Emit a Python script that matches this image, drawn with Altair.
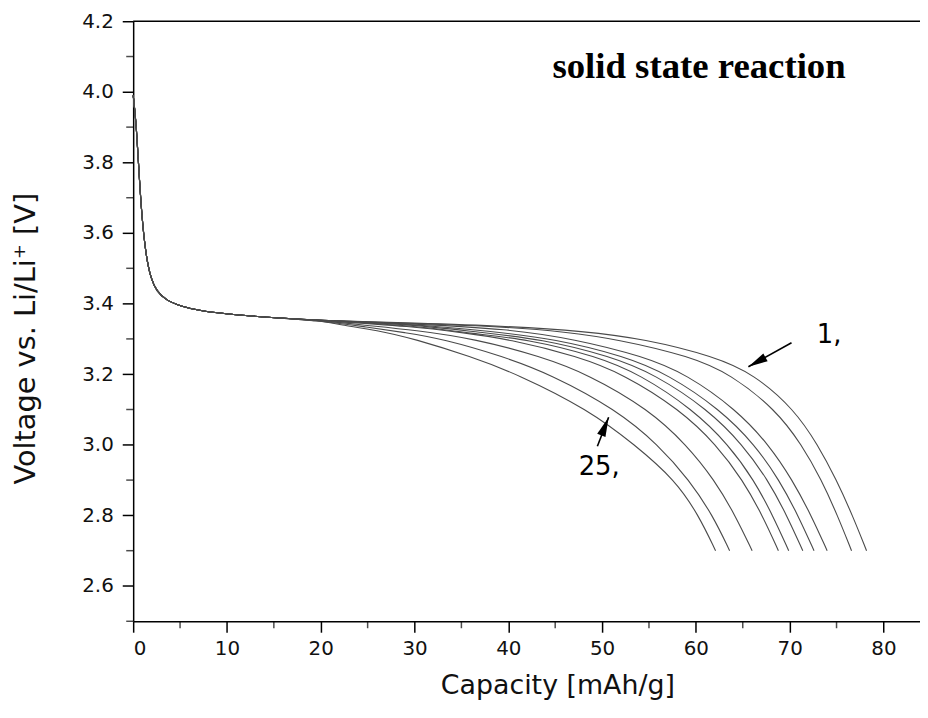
import altair as alt
import pandas as pd

# ---------------- data ----------------
# common initial drop (all discharge curves overlap here)
start_cap = [0.0, 0.3, 0.6, 0.95, 1.4, 1.9, 2.5, 3.5, 5.0, 7.3, 10.9, 15.0, 20.0]
start_volt = [3.99, 3.92, 3.78, 3.635, 3.53, 3.47, 3.435, 3.41, 3.393, 3.378, 3.368, 3.36, 3.352]

# plateau points of each curve (curve 1 = cycle 1 ... last = cycle 25)
plateau_cap = [
    [30, 40, 48],
    [30, 40, 46],
    [30, 40],
    [30, 38],
    [30, 37],
    [30, 36],
    [30, 35],
    [25, 30],
    [25, 29],
    [22, 26],
]
plateau_volt = [
    [3.345, 3.336, 3.322],
    [3.344, 3.334, 3.320],
    [3.343, 3.328],
    [3.342, 3.322],
    [3.341, 3.318],
    [3.338, 3.315],
    [3.335, 3.318],
    [3.338, 3.325],
    [3.333, 3.318],
    [3.340, 3.325],
]

# capacity at which each curve reaches these voltages
fall_volt = [3.30, 3.25, 3.20, 3.10, 3.00, 2.90, 2.80, 2.70]
fall_cap = [
    [54.5, 62.0, 66.2, 70.5, 73.0, 75.0, 76.7, 78.2],
    [51.5, 59.5, 63.7, 68.5, 71.3, 73.4, 75.1, 76.6],
    [47.0, 54.5, 59.0, 64.3, 67.8, 70.3, 72.3, 74.0],
    [45.0, 52.5, 57.0, 62.6, 66.3, 68.9, 70.9, 72.6],
    [43.5, 51.0, 55.6, 61.3, 65.0, 67.7, 69.7, 71.4],
    [42.0, 49.5, 54.0, 59.7, 63.5, 66.2, 68.2, 69.9],
    [40.0, 47.5, 52.3, 58.3, 62.2, 65.0, 67.1, 68.8],
    [36.5, 43.5, 48.5, 55.0, 59.0, 62.0, 64.2, 66.0],
    [33.0, 39.5, 44.5, 51.5, 56.0, 59.3, 61.8, 63.6],
    [30.0, 36.0, 41.0, 48.5, 53.5, 57.8, 60.3, 62.1],
]

title_text = "solid state reaction"
x_title = "Capacity [mAh/g]"
y_title = "Voltage vs.  Li/Li\u207a [V]"

x_major = [0, 10, 20, 30, 40, 50, 60, 70, 80]
x_minor = [5, 15, 25, 35, 45, 55, 65, 75]
y_major = [2.6, 2.8, 3.0, 3.2, 3.4, 3.6, 3.8, 4.0, 4.2]
y_minor = [2.5, 2.7, 2.9, 3.1, 3.3, 3.5, 3.7, 3.9, 4.1]

# annotations
ann_label = ["1,", "25,"]
ann_label_cap = [72.9, 47.5]
ann_label_volt = [3.289, 2.914]
arrow_from_cap = [70.2, 49.5]
arrow_from_volt = [3.289, 2.996]
arrow_to_cap = [65.6, 50.7]
arrow_to_volt = [3.221, 3.078]
arrow_angle = [241, 22]

# ---------------- build tables ----------------
rows = []
for i in range(len(fall_cap)):
    caps = start_cap + plateau_cap[i] + fall_cap[i]
    volts = start_volt + plateau_volt[i] + fall_volt
    for k, (c, v) in enumerate(zip(caps, volts)):
        rows.append({"curve": i + 1, "order": k, "cap": c, "volt": v})
df = pd.DataFrame(rows)

W, H = 792, 604
XMAX = 83.9
xs = alt.Scale(domain=[0, XMAX], nice=False, zero=False)
ys = alt.Scale(domain=[2.5, 4.2], nice=False, zero=False)

x_axis = alt.Axis(
    values=x_major, format="d", tickSize=11, labelOverlap=False,
    title=x_title, titleX=427, titleY=73, titleAlign="center",
    titleBaseline="alphabetic", titleFontSize=27, grid=False, labelPadding=6,
)
y_axis = alt.Axis(
    values=y_major, format=".1f", tickSize=11, labelOverlap=False,
    title=y_title, titleX=-99, titleY=319, titleAlign="center",
    titleBaseline="alphabetic", titleAngle=270, titleFontSize=29, grid=False,
    labelPadding=9,
)

lines = alt.Chart(df).mark_line(
    interpolate="basis", color="#4a4a4a", strokeWidth=1.1
).encode(
    x=alt.X("cap:Q", scale=xs, axis=x_axis),
    y=alt.Y("volt:Q", scale=ys, axis=y_axis),
    detail="curve:N",
    order="order:Q",
)

x_minor_ticks = alt.Chart(pd.DataFrame({"m": x_minor})).mark_tick(
    color="black", thickness=1.5, size=7, orient="vertical"
).encode(x=alt.X("m:Q", scale=xs), y=alt.value(H + 3.5))

y_minor_ticks = alt.Chart(pd.DataFrame({"m": y_minor})).mark_tick(
    color="black", thickness=1.5, size=7, orient="horizontal"
).encode(y=alt.Y("m:Q", scale=ys), x=alt.value(-3.5))

top_line = alt.Chart(pd.DataFrame({"a": [0]})).mark_rule(
    color="black", strokeWidth=1.5
).encode(x=alt.value(0), x2=alt.value(W), y=alt.value(0))

tdf = pd.DataFrame({"cap": [44.7], "volt": [4.038], "t": [title_text]})
title_mark = alt.Chart(tdf).mark_text(
    font="Liberation Serif", fontWeight="bold", fontSize=37, align="left",
    baseline="alphabetic", color="black"
).encode(x=alt.X("cap:Q", scale=xs), y=alt.Y("volt:Q", scale=ys), text="t:N")

adf = pd.DataFrame({
    "label": ann_label, "lc": ann_label_cap, "lv": ann_label_volt,
    "fc": arrow_from_cap, "fv": arrow_from_volt,
    "tc": arrow_to_cap, "tv": arrow_to_volt, "ang": arrow_angle,
})
ann_text = alt.Chart(adf).mark_text(
    font="DejaVu Sans", fontSize=26, align="left", baseline="alphabetic", color="black"
).encode(x=alt.X("lc:Q", scale=xs), y=alt.Y("lv:Q", scale=ys), text="label:N")

arrow_shaft = alt.Chart(adf).mark_rule(color="black", strokeWidth=1.6).encode(
    x=alt.X("fc:Q", scale=xs), y=alt.Y("fv:Q", scale=ys),
    x2="tc:Q", y2="tv:Q",
)
arrow_head = alt.Chart(adf).mark_point(
    shape="M0,0 L0.5,2.2 L-0.5,2.2 Z", filled=True, color="black", opacity=1, size=320
).encode(
    x=alt.X("tc:Q", scale=xs), y=alt.Y("tv:Q", scale=ys),
    angle=alt.Angle("ang:Q", scale=None),
)

chart = alt.layer(
    lines, x_minor_ticks, y_minor_ticks, top_line, title_mark, arrow_shaft, arrow_head, ann_text
).properties(
    width=W, height=H,
    autosize="none",
    padding={"left": 126, "top": 11, "right": 0, "bottom": 90},
).configure_view(stroke=None).configure_axis(
    domainColor="black", domainWidth=1.5, tickColor="black", tickWidth=1.5,
    labelFont="DejaVu Sans", labelFontSize=20, labelColor="#111",
    titleFont="DejaVu Sans", titleFontWeight="normal", titleColor="#111",
)

chart.save("out.html", embed_options={"renderer": "svg", "actions": False})
